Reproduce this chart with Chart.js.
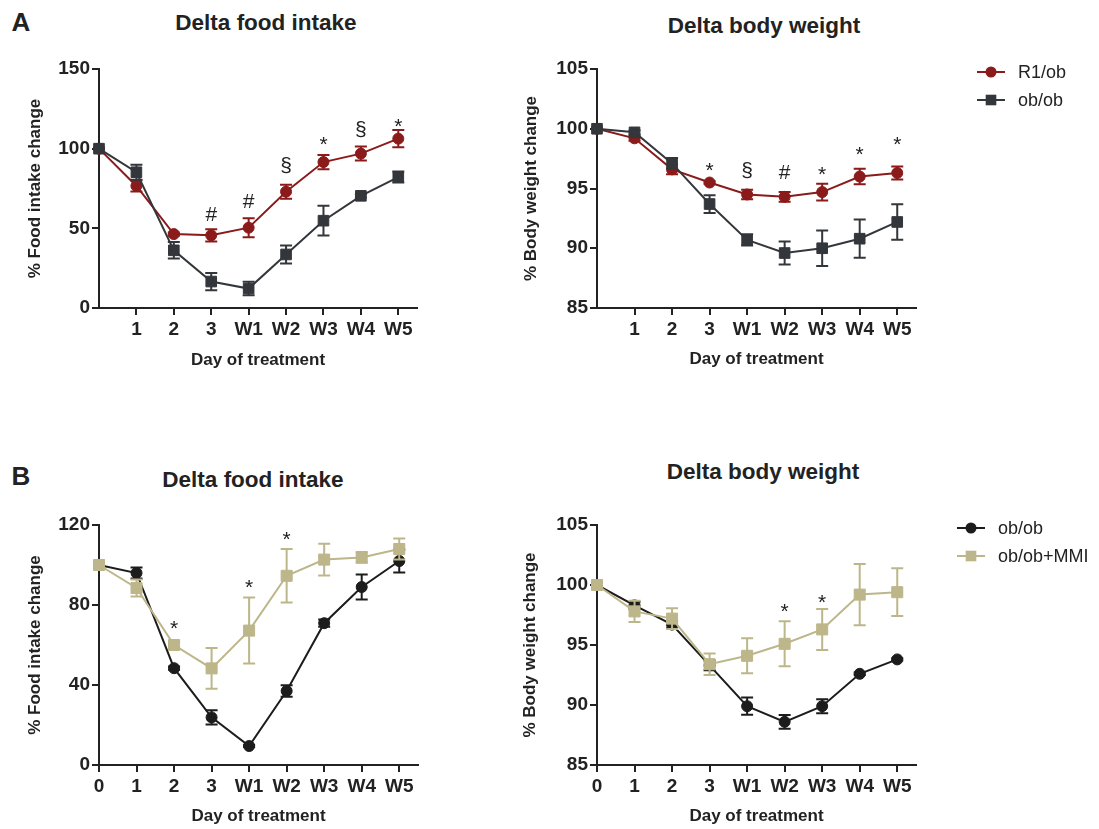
<!DOCTYPE html>
<html>
<head>
<meta charset="utf-8">
<script src="https://cdn.jsdelivr.net/npm/chart.js@4.4.1/dist/chart.umd.min.js"></script>
<style>
  html, body { margin: 0; padding: 0; background: #fff; }
  body { width: 1099px; height: 829px; position: relative; overflow: hidden;
         font-family: 'Liberation Sans', Arial, sans-serif; color: #222; }
  canvas { position: absolute; left: 0; top: 0; }
  .title { position: absolute; transform: translate(-50%, -50%); font-weight: bold;
           font-size: 22.5px; line-height: 1; white-space: nowrap; }
  .panel { position: absolute; transform: translate(-50%, -50%); font-weight: bold;
           font-size: 26px; line-height: 1; }
  .leg { position: absolute; transform: translateY(-50%); display: flex; align-items: center;
         font-size: 18px; line-height: 1; white-space: nowrap; }
  .leg svg { margin-right: 13px; }
</style>
</head>
<body>

<div class="panel" style="left:21px;top:22px">A</div>
<div class="panel" style="left:21px;top:476px">B</div>

<div class="title" style="left:266px;top:23px">Delta food intake</div>
<div class="title" style="left:764px;top:26px">Delta body weight</div>
<div class="title" style="left:253px;top:480px">Delta food intake</div>
<div class="title" style="left:763px;top:472px">Delta body weight</div>

<canvas id="a1" width="1099" height="829"></canvas>
<canvas id="a2" width="1099" height="829"></canvas>
<canvas id="b1" width="1099" height="829"></canvas>
<canvas id="b2" width="1099" height="829"></canvas>

<div class="leg" style="left:977px;top:72px">
  <svg width="28" height="14"><line x1="0" y1="7" x2="28" y2="7" stroke="#8b1a1a" stroke-width="2"/><circle cx="14" cy="7" r="5.5" fill="#8b1a1a"/></svg>R1/ob
</div>
<div class="leg" style="left:977px;top:100px">
  <svg width="28" height="14"><line x1="0" y1="7" x2="28" y2="7" stroke="#33363b" stroke-width="2"/><rect x="8.7" y="1.7" width="10.6" height="10.6" fill="#33363b"/></svg>ob/ob
</div>
<div class="leg" style="left:957px;top:528px">
  <svg width="28" height="14"><line x1="0" y1="7" x2="28" y2="7" stroke="#1c1c1c" stroke-width="2"/><circle cx="14" cy="7" r="5.5" fill="#1c1c1c"/></svg>ob/ob
</div>
<div class="leg" style="left:957px;top:556px">
  <svg width="28" height="14"><line x1="0" y1="7" x2="28" y2="7" stroke="#bdb68a" stroke-width="2"/><rect x="8.7" y="1.7" width="10.6" height="10.6" fill="#bdb68a"/></svg>ob/ob+MMI
</div>

<script>
// ── Data ───────────────────────────────────────────────
const days = ['0', '1', '2', '3', 'W1', 'W2', 'W3', 'W4', 'W5'];
const dayIdx = [0, 1, 2, 3, 4, 5, 6, 7, 8];

// A: food intake (mean, SEM)
const foodR1    = [100, 76.6, 46.4, 45.6, 50.4, 73.0, 91.6, 96.9, 106.3];
const foodR1Err = [0, 3.5, 1, 3.8, 6, 4.4, 4.5, 4.4, 5.4];
const foodOb    = [100, 85.2, 36.2, 16.6, 12.2, 33.6, 54.8, 70.4, 82.2];
const foodObErr = [0, 4.7, 5.2, 5.4, 4.2, 5.7, 9.3, 1, 3.5];

// A: body weight
const bwR1    = [100, 99.2, 96.6, 95.5, 94.5, 94.3, 94.7, 96.0, 96.3];
const bwR1Err = [0, 0.2, 0.4, 0.1, 0.4, 0.4, 0.7, 0.65, 0.55];
const bwOb    = [100, 99.7, 97.1, 93.7, 90.7, 89.6, 90.0, 90.8, 92.2];
const bwObErr = [0, 0.15, 0.45, 0.74, 0.47, 0.97, 1.49, 1.6, 1.49];

// B: food intake
const foodBOb     = [100, 96, 48.4, 23.8, 9.5, 37, 70.9, 89, 102];
const foodBObErr  = [0, 2.7, 0.8, 3.6, 0.5, 2.9, 1.8, 6.3, 5.7];
const foodBMmi    = [100, 88.5, 60, 48.3, 67.2, 94.6, 102.7, 103.8, 108];
const foodBMmiErr = [0, 4.3, 1.5, 10.2, 16.5, 13.4, 7.9, 2.7, 5.3];

// B: body weight
const bwBOb     = [100, 98.3, 96.7, 93.3, 89.9, 88.6, 89.9, 92.6, 93.8];
const bwBObErr  = [0, 0.3, 0.3, 0.4, 0.72, 0.57, 0.58, 0.1, 0.1];
const bwBMmi    = [100, 97.8, 97.2, 93.4, 94.1, 95.1, 96.3, 99.2, 99.4];
const bwBMmiErr = [0, 0.89, 0.86, 0.9, 1.46, 1.87, 1.71, 2.55, 1.99];

// significance marks: day index, symbol, height (data units)
const sigA1At = [3, 4, 5, 6, 7, 8];
const sigA1Sym = ['#', '#', '§', '*', '§', '*'];
const sigA1Y = [58.4, 66.7, 89.3, 102.2, 111.9, 113.7];
const sigA2At = [3, 4, 5, 6, 7, 8];
const sigA2Sym = ['*', '§', '#', '*', '*', '*'];
const sigA2Y = [96.46, 96.41, 96.26, 96.1, 97.77, 98.6];
const sigB1At = [2, 4, 5];
const sigB1Sym = ['*', '*', '*'];
const sigB1Y = [68.1, 88.3, 112.6];
const sigB2At = [5, 6];
const sigB2Sym = ['*', '*'];
const sigB2Y = [97.77, 98.46];

// ── Style ──────────────────────────────────────────────
const C = { red: '#8b1a1a', dark: '#33363b', black: '#1c1c1c', tan: '#bdb68a', axis: '#222' };
const FONT = "'Liberation Sans', Arial, sans-serif";
Chart.defaults.font.family = FONT;
Chart.defaults.color = C.axis;

// error bars drawn just before each dataset
const errorBars = {
  id: 'errorBars',
  beforeDatasetDraw(chart, args) {
    const ds = chart.data.datasets[args.index];
    if (!ds.errors) return;
    const ctx = chart.ctx, y = chart.scales.y;
    ctx.save();
    ctx.strokeStyle = ds.borderColor;
    ctx.lineWidth = 2;
    args.meta.data.forEach((pt, j) => {
      const e = ds.errors[j];
      if (!e) return;
      const v = ds.data[j].y;
      const yt = y.getPixelForValue(v + e), yb = y.getPixelForValue(v - e);
      ctx.beginPath();
      ctx.moveTo(pt.x, yt); ctx.lineTo(pt.x, yb);
      ctx.moveTo(pt.x - 6, yt); ctx.lineTo(pt.x + 6, yt);
      ctx.moveTo(pt.x - 6, yb); ctx.lineTo(pt.x + 6, yb);
      ctx.stroke();
    });
    ctx.restore();
  }
};

function sigMarks(at, sym, ys) {
  return {
    id: 'sigMarks',
    afterDraw(chart) {
      const ctx = chart.ctx, x = chart.scales.x, y = chart.scales.y;
      ctx.save();
      ctx.font = '21px ' + FONT;
      ctx.fillStyle = C.axis;
      ctx.textAlign = 'center';
      ctx.textBaseline = 'middle';
      at.forEach((d, i) => ctx.fillText(sym[i], x.getPixelForValue(d), y.getPixelForValue(ys[i])));
      ctx.restore();
    }
  };
}

function series(label, vals, errs, color, style, radius, order) {
  return {
    label,
    data: dayIdx.map((d, i) => ({ x: d, y: vals[i] })),
    errors: errs,
    borderColor: color,
    backgroundColor: color,
    borderWidth: 2,
    pointStyle: style,
    pointRadius: radius,
    pointBorderWidth: 1,
    pointBackgroundColor: color,
    pointBorderColor: color,
    tension: 0,
    clip: false,
    order
  };
}

// g: plot box in page coords + axis title centres
function panel(id, g, datasets, yMin, yMax, yStep, xTicks, yTitle, sig) {
  const lh = 17 * 1.2;
  const pad = {
    left: g.yTitleX - lh / 2,
    top: g.top,
    right: 1099 - g.right,
    bottom: 829 - (g.xTitleY + lh / 2)
  };
  const axisCommon = {
    border: { color: C.axis, width: 2 },
    grid: { display: true, drawOnChartArea: false, drawTicks: true, tickLength: 7, color: C.axis, lineWidth: 2 },
    title: { display: true, font: { size: 17, weight: 'bold' }, color: C.axis, padding: 0 }
  };
  return new Chart(document.getElementById(id), {
    type: 'line',
    data: { datasets },
    plugins: [errorBars, sig],
    options: {
      responsive: false,
      animation: false,
      events: [],
      layout: { padding: pad },
      plugins: { legend: { display: false }, tooltip: { enabled: false }, title: { display: false } },
      scales: {
        x: {
          ...axisCommon,
          type: 'linear', min: 0, max: 8.5,
          title: { ...axisCommon.title, text: 'Day of treatment' },
          afterBuildTicks: s => { s.ticks = xTicks.map(v => ({ value: v })); },
          afterFit: s => { s.height = g.xTitleY + lh / 2 - g.bottom; },
          ticks: { font: { size: 19, weight: 'bold' }, color: C.axis, padding: 3, maxRotation: 0, autoSkip: false,
                   callback: v => days[v] }
        },
        y: {
          ...axisCommon,
          type: 'linear', min: yMin, max: yMax,
          title: { ...axisCommon.title, text: yTitle },
          afterFit: s => { s.width = g.left - pad.left; },
          ticks: { font: { size: 19, weight: 'bold' }, color: C.axis, padding: 2, stepSize: yStep }
        }
      }
    }
  });
}

const xA = [1, 2, 3, 4, 5, 6, 7, 8];
const xB = [0, 1, 2, 3, 4, 5, 6, 7, 8];

panel('a1', { left: 99, top: 69, right: 417, bottom: 308, yTitleX: 35, xTitleY: 360 }, [
  series('ob/ob', foodOb, foodObErr, C.dark, 'rect', 7.5, 1),
  series('R1/ob', foodR1, foodR1Err, C.red, 'circle', 5.5, 2)
], 0, 150, 50, xA, '% Food intake change', sigMarks(sigA1At, sigA1Sym, sigA1Y));

panel('a2', { left: 597, top: 69, right: 916, bottom: 308, yTitleX: 531, xTitleY: 359.5 }, [
  series('ob/ob', bwOb, bwObErr, C.dark, 'rect', 7.5, 1),
  series('R1/ob', bwR1, bwR1Err, C.red, 'circle', 5.5, 2)
], 85, 105, 5, xA, '% Body weight change', sigMarks(sigA2At, sigA2Sym, sigA2Y));

panel('b1', { left: 99, top: 525, right: 418, bottom: 765, yTitleX: 35.5, xTitleY: 816.5 }, [
  series('ob/ob+MMI', foodBMmi, foodBMmiErr, C.tan, 'rect', 7.8, 1),
  series('ob/ob', foodBOb, foodBObErr, C.black, 'circle', 5.5, 2)
], 0, 120, 40, xB, '% Food intake change', sigMarks(sigB1At, sigB1Sym, sigB1Y));

panel('b2', { left: 597, top: 525, right: 916, bottom: 765, yTitleX: 530, xTitleY: 816 }, [
  series('ob/ob+MMI', bwBMmi, bwBMmiErr, C.tan, 'rect', 7.8, 1),
  series('ob/ob', bwBOb, bwBObErr, C.black, 'circle', 5.5, 2)
], 85, 105, 5, xB, '% Body weight change', sigMarks(sigB2At, sigB2Sym, sigB2Y));
</script>
</body>
</html>
